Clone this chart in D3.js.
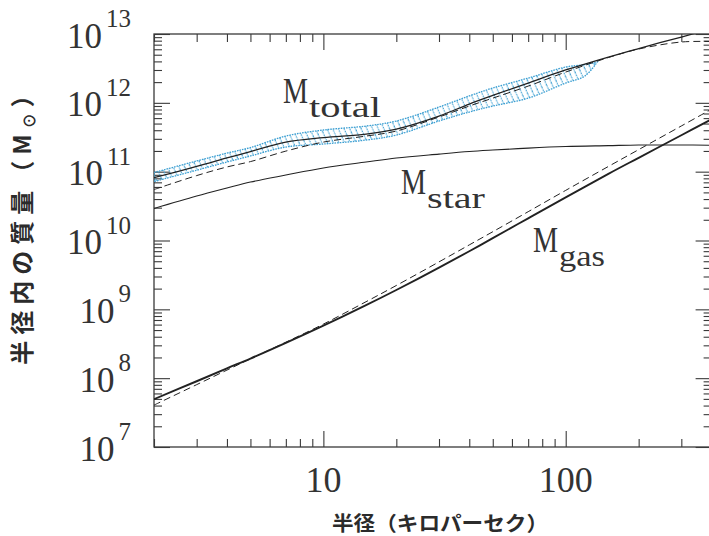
<!DOCTYPE html>
<html>
<head>
<meta charset="utf-8">
<script src="https://cdn.jsdelivr.net/npm/d3@7"></script>
<style>
  html, body { margin: 0; padding: 0; background: #fff; }
  svg { display: block; }
  .serif { font-family: "Liberation Serif", "DejaVu Serif", serif; fill: #333; }
  .jp { font-family: "Noto Sans CJK JP", "Noto Sans CJK SC", sans-serif; fill: #2b2b2b; font-weight: 700; }
</style>
</head>
<body>
<svg id="chart" width="709" height="536"></svg>
<script>
// Radius (kpc) at which the enclosed masses are sampled
const radii = [2, 3, 4, 5, 7, 10, 15, 20, 30, 40, 50, 70, 100, 150, 200, 300, 400];

// Enclosed masses (solar masses)
const totalMass  = [8.20e10, 1.19e11, 1.58e11, 1.96e11, 2.69e11, 3.13e11, 3.52e11, 4.16e11, 6.43e11, 9.61e11, 1.28e12, 1.94e12, 3.00e12, 4.63e12, 6.15e12, 9.04e12, 1.18e13];
const totalModel = [5.50e10, 8.77e10, 1.17e11, 1.40e11, 1.99e11, 2.69e11, 3.29e11, 3.89e11, 6.22e11, 8.98e11, 1.17e12, 1.75e12, 2.80e12, 4.55e12, 6.05e12, 7.65e12, 7.78e12];
const starMass   = [2.91e10, 4.42e10, 5.78e10, 7.06e10, 8.93e10, 1.13e11, 1.38e11, 1.58e11, 1.80e11, 1.96e11, 2.06e11, 2.20e11, 2.32e11, 2.39e11, 2.44e11, 2.44e11, 2.42e11];
const gasMass    = [4.95e7, 9.02e7, 1.39e8, 1.93e8, 3.26e8, 5.80e8, 1.15e9, 1.91e9, 4.03e9, 6.98e9, 1.08e10, 2.10e10, 4.23e10, 9.29e10, 1.59e11, 3.38e11, 5.79e11];
const gasModel   = [4.06e7, 8.05e7, 1.31e8, 1.91e8, 3.33e8, 6.10e8, 1.29e9, 2.22e9, 4.89e9, 8.63e9, 1.34e10, 2.62e10, 5.35e10, 1.19e11, 2.09e11, 4.61e11, 8.10e11];

// Allowed range of the total mass (hatched band)
const bandRadii = [2, 3, 4, 5, 7, 10, 15, 20, 30, 40, 50, 70, 100, 120, 135];
const bandUpper = [9.71e10, 1.43e11, 1.86e11, 2.24e11, 3.29e11, 4.03e11, 4.60e11, 5.44e11, 8.69e11, 1.26e12, 1.64e12, 2.29e12, 3.31e12, 3.60e12, 3.92e12];
const bandLower = [7.18e10, 1.05e11, 1.38e11, 1.69e11, 2.28e11, 2.52e11, 2.88e11, 3.40e11, 5.44e11, 7.35e11, 8.98e11, 1.17e12, 1.94e12, 2.45e12, 3.92e12];

// Tick labels
const xTickLabels = [10, 100];
const yExponents = [7, 8, 9, 10, 11, 12, 13];

(function () {
  const svg = d3.select("#chart");
  const plotLeft = 154, plotRight = 711.6, plotTop = 34, plotBottom = 447;

  const x = d3.scaleLog().domain([2, 400]).range([plotLeft, plotRight]);
  const y = d3.scaleLog().domain([1e7, 1e13]).range([plotBottom, plotTop]);

  const defs = svg.append("defs");
  defs.append("clipPath").attr("id", "plotClip")
    .append("rect").attr("x", plotLeft).attr("y", plotTop)
    .attr("width", plotRight - plotLeft).attr("height", plotBottom - plotTop);

  const blue = "#3c9fd2";
  const hatch = defs.append("pattern").attr("id", "hatch")
    .attr("patternUnits", "userSpaceOnUse")
    .attr("width", 5.2).attr("height", 12)
    .attr("patternTransform", "rotate(-24)");
  hatch.append("line").attr("x1", 2).attr("x2", 2).attr("y1", 0).attr("y2", 12)
    .attr("stroke", blue).attr("stroke-width", 1.1).attr("stroke-dasharray", "1.6 1");

  // ---- axes: inward ticks on all four sides ----
  const isDecade = v => Math.abs(Math.log10(v) - Math.round(Math.log10(v))) < 1e-9;
  const xAll = x.ticks();
  const xMajor = xAll.filter(isDecade);
  const xMinor = xAll.filter(v => !isDecade(v));
  const yAll = y.ticks();
  const yMajor = yAll.filter(isDecade);
  const yMinor = yAll.filter(v => !isDecade(v));

  function drawAxis(axisFn, scale, values, size, transform) {
    const g = svg.append("g").attr("transform", transform)
      .call(axisFn(scale).tickValues(values).tickSize(-size).tickFormat(""));
    g.select(".domain").remove();
    g.selectAll(".tick line").attr("stroke", "#3a3a3a").attr("stroke-width", 1.1);
  }
  drawAxis(d3.axisBottom, x, xMajor, 16, `translate(0,${plotBottom})`);
  drawAxis(d3.axisBottom, x, xMinor, 8, `translate(0,${plotBottom})`);
  drawAxis(d3.axisTop, x, xMajor, 16, `translate(0,${plotTop})`);
  drawAxis(d3.axisTop, x, xMinor, 8, `translate(0,${plotTop})`);
  drawAxis(d3.axisLeft, y, yMajor, 16, `translate(${plotLeft},0)`);
  drawAxis(d3.axisLeft, y, yMinor, 8, `translate(${plotLeft},0)`);
  drawAxis(d3.axisRight, y, yMajor, 16, `translate(${plotRight},0)`);
  drawAxis(d3.axisRight, y, yMinor, 8, `translate(${plotRight},0)`);

  svg.append("rect").attr("x", plotLeft).attr("y", plotTop)
    .attr("width", plotRight - plotLeft).attr("height", plotBottom - plotTop)
    .attr("fill", "none").attr("stroke", "#3a3a3a").attr("stroke-width", 1.3);

  // ---- data marks ----
  const plot = svg.append("g").attr("clip-path", "url(#plotClip)");
  const smooth = d3.curveCatmullRom.alpha(0.5);

  const band = bandRadii.map((r, i) => ({ r, hi: bandUpper[i], lo: bandLower[i] }));
  const area = d3.area()
    .x(d => x(d.r)).y0(d => y(d.lo)).y1(d => y(d.hi))
    .curve(smooth);
  plot.append("path").attr("d", area(band))
    .attr("fill", "url(#hatch)")
    .attr("stroke", blue).attr("stroke-width", 1.3)
    .attr("stroke-dasharray", "1.6 1");

  const line = d3.line().x(d => x(d.r)).y(d => y(d.m)).curve(smooth);
  const series = [
    { values: starMass,   width: 1.1, dash: null },
    { values: totalModel, width: 1.0, dash: "7 4" },
    { values: totalMass,  width: 1.3, dash: null },
    { values: gasModel,   width: 1.0, dash: "7 4" },
    { values: gasMass,    width: 1.9, dash: null }
  ];
  series.forEach(s => {
    plot.append("path")
      .attr("d", line(radii.map((r, i) => ({ r, m: s.values[i] }))))
      .attr("fill", "none").attr("stroke", "#222")
      .attr("stroke-width", s.width)
      .attr("stroke-dasharray", s.dash);
  });

  // ---- tick labels ----
  yExponents.forEach(e => {
    const t = svg.append("text").attr("class", "serif")
      .attr("x", 131).attr("y", y(Math.pow(10, e)) + 13.5)
      .attr("text-anchor", "end");
    t.append("tspan").attr("font-size", 35).text("10");
    t.append("tspan").attr("font-size", 25).attr("dx", 4).attr("dy", -20.5).text(e);
  });

  xTickLabels.forEach(v => {
    svg.append("text").attr("class", "serif")
      .attr("x", x(v)).attr("y", 492)
      .attr("text-anchor", "middle").attr("font-size", 36)
      .text(v);
  });

  // ---- curve labels ----
  function massLabel(mx, my, sub, subLen) {
    svg.append("text").attr("class", "serif")
      .attr("x", mx).attr("y", my).attr("font-size", 36)
      .attr("textLength", 25).attr("lengthAdjust", "spacingAndGlyphs")
      .text("M");
    svg.append("text").attr("class", "serif")
      .attr("x", mx + 26).attr("y", my + 14).attr("font-size", 29)
      .attr("textLength", subLen).attr("lengthAdjust", "spacingAndGlyphs")
      .text(sub);
  }
  massLabel(283, 103, "total", 72);
  massLabel(401, 194, "star", 58);
  massLabel(533, 252, "gas", 46);

  // ---- axis titles ----
  svg.append("text").attr("class", "jp")
    .attr("x", 440).attr("y", 531)
    .attr("text-anchor", "middle").attr("font-size", 20)
    .attr("textLength", 216).attr("lengthAdjust", "spacingAndGlyphs")
    .text("半径（キロパーセク）");

  const yTitle = svg.append("text").attr("class", "jp")
    .attr("transform", "translate(31,221) rotate(-90)")
    .attr("text-anchor", "middle").attr("font-size", 24)
    .style("letter-spacing", "6px");
  yTitle.append("tspan").text("半径内の質量（M");
  yTitle.append("tspan").attr("font-size", 15).attr("dy", 4).text("⊙");
  yTitle.append("tspan").attr("dy", -4).text("）");
})();
</script>
</body>
</html>
